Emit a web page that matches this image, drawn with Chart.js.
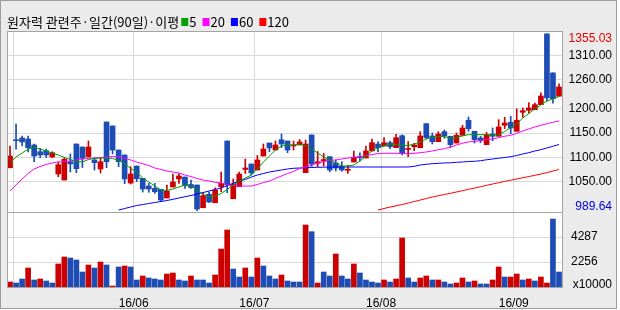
<!DOCTYPE html>
<html>
<head>
<meta charset="utf-8">
<script src="https://cdn.jsdelivr.net/npm/chart.js@4/dist/chart.umd.min.js"></script>
<style>
  html, body { margin: 0; padding: 0; background: #fff; }
  #chart { display: block; }
</style>
</head>
<body>
<canvas id="chart" width="620" height="310"></canvas>
<script>
// 원자력 관련주 index, daily candles (2016-04-29 .. 2016-09-12)
const opens = [
  1078.5, 1135.8, 1140.0, 1137.9, 1125.5, 1111.6, 1113.7, 1100.7, 1065.5, 1053.1,
  1090.9, 1127.5, 1121.3, 1100.7, 1094.5, 1075.9, 1173.0, 1164.8, 1115.1, 1104.8,
  1046.9, 1082.0, 1056.6, 1040.7, 1035.9, 1033.9, 1015.9, 1038.6, 1055.2, 1059.3,
  1043.8, 1042.8, 995.8, 1023.5, 1006.1, 1039.2, 1133.7, 1014.4, 1039.2, 1074.8,
  1086.2, 1073.8, 1102.7, 1129.6, 1115.1, 1136.4, 1133.7, 1123.4, 1125.5, 1068.2,
  1146.2, 1087.6, 1092.4, 1101.3, 1088.3, 1081.4, 1073.2, 1090.3, 1101.3, 1098.6,
  1113.1, 1127.5, 1123.4, 1130.2, 1119.9, 1144.7, 1116.2, 1122.0, 1119.9, 1169.5,
  1144.1, 1132.3, 1153.0, 1143.5, 1129.6, 1145.5, 1176.6, 1153.8, 1140.0, 1126.1,
  1148.2, 1143.5, 1166.2, 1172.4, 1153.8, 1193.1, 1197.2, 1198.5, 1208.8, 1355.03,
  1274.4, 1226.2
];
const highs = [
  1123.4, 1168.9, 1144.1, 1144.1, 1127.5, 1118.6, 1117.2, 1111.6, 1090.3, 1099.2,
  1106.9, 1127.5, 1121.3, 1133.7, 1099.2, 1098.6, 1173.0, 1164.8, 1115.1, 1104.8,
  1080.6, 1082.0, 1056.6, 1046.3, 1046.3, 1033.9, 1042.8, 1065.5, 1066.5, 1059.3,
  1053.1, 1042.8, 1027.2, 1028.3, 1037.2, 1069.6, 1133.7, 1055.2, 1069.6, 1096.5,
  1086.2, 1103.8, 1127.5, 1129.6, 1133.7, 1148.2, 1133.7, 1133.7, 1136.8, 1135.8,
  1146.2, 1112.0, 1108.3, 1101.3, 1094.5, 1090.9, 1083.5, 1113.1, 1109.5, 1123.4,
  1137.9, 1132.3, 1140.6, 1133.7, 1147.6, 1146.2, 1132.3, 1129.0, 1153.0, 1169.5,
  1150.3, 1153.0, 1156.5, 1143.5, 1150.3, 1166.2, 1183.4, 1153.8, 1143.5, 1151.7,
  1160.6, 1177.8, 1182.8, 1184.8, 1199.9, 1202.0, 1212.9, 1212.3, 1233.0, 1355.03,
  1274.4, 1251.6
];
const lows = [
  1077.9, 1116.6, 1123.4, 1111.0, 1090.9, 1099.2, 1099.2, 1099.2, 1059.9, 1053.1,
  1069.6, 1068.2, 1078.9, 1100.7, 1073.8, 1067.6, 1078.5, 1106.9, 1080.6, 1045.5,
  1044.8, 1049.6, 1028.3, 1027.7, 1025.6, 1008.2, 1015.9, 1038.6, 1045.9, 1035.9,
  1035.9, 989.64, 995.8, 1007.0, 1006.1, 1028.9, 1026.8, 1014.4, 1039.2, 1066.5,
  1063.4, 1073.8, 1102.7, 1111.6, 1115.1, 1119.9, 1109.5, 1115.1, 1125.5, 1068.2,
  1081.0, 1080.6, 1082.0, 1070.3, 1071.7, 1071.1, 1066.9, 1090.3, 1091.8, 1098.6,
  1113.1, 1111.6, 1123.4, 1117.8, 1119.9, 1104.8, 1101.3, 1113.7, 1119.9, 1138.5,
  1127.5, 1132.3, 1139.3, 1120.7, 1129.6, 1145.5, 1153.8, 1129.6, 1130.2, 1126.1,
  1134.3, 1143.5, 1159.2, 1148.8, 1153.8, 1182.8, 1191.0, 1198.5, 1208.8, 1215.8,
  1211.7, 1226.2
];
const closes = [
  1102.7, 1134.3, 1131.7, 1119.9, 1102.7, 1104.8, 1104.8, 1109.5, 1084.7, 1095.9,
  1086.2, 1076.5, 1098.0, 1121.3, 1088.9, 1090.9, 1090.9, 1115.1, 1090.9, 1055.2,
  1065.5, 1055.8, 1034.5, 1034.5, 1028.9, 1011.7, 1030.4, 1049.0, 1061.4, 1041.7,
  1037.6, 993.1, 1020.6, 1007.6, 1032.4, 1046.3, 1042.8, 1044.8, 1065.5, 1077.9,
  1067.6, 1094.5, 1117.2, 1119.3, 1125.5, 1127.5, 1115.1, 1125.5, 1131.7, 1127.5,
  1086.2, 1090.9, 1095.5, 1073.8, 1077.9, 1073.8, 1073.8, 1100.0, 1099.2, 1113.1,
  1130.2, 1119.9, 1130.2, 1122.0, 1140.6, 1108.3, 1117.2, 1125.5, 1144.1, 1140.6,
  1132.3, 1148.2, 1144.1, 1126.1, 1145.5, 1160.6, 1159.2, 1136.4, 1135.2, 1146.8,
  1143.5, 1162.7, 1171.0, 1160.6, 1176.6, 1196.4, 1202.0, 1208.8, 1226.8, 1222.7,
  1221.2, 1245.4
];

// moving averages as drawn on the chart
const ma5 = [
  1088.3, 1100.7, 1108.9, 1117.2, 1120.3, 1117.2, 1113.1, 1108.9, 1104.8, 1099.6,
  1095.5, 1091.4, 1090.3, 1095.5, 1097.6, 1098.6, 1098.6, 1097.6, 1093.4, 1087.2,
  1076.9, 1069.6, 1057.2, 1049.0, 1040.7, 1032.4, 1031.4, 1034.5, 1038.6, 1042.8,
  1040.7, 1032.4, 1024.1, 1017.9, 1020.0, 1025.2, 1033.5, 1042.8, 1051.0, 1057.2,
  1063.4, 1075.9, 1090.3, 1102.7, 1115.1, 1123.4, 1125.5, 1125.5, 1127.5, 1123.4,
  1117.2, 1108.9, 1100.7, 1094.5, 1088.3, 1082.0, 1082.0, 1084.1, 1092.4, 1102.7,
  1113.1, 1119.3, 1123.4, 1127.5, 1126.5, 1124.4, 1124.4, 1127.5, 1131.7, 1137.9,
  1141.0, 1143.0, 1143.0, 1138.9, 1141.0, 1144.1, 1146.8, 1146.8, 1146.8, 1146.8,
  1146.8, 1146.2, 1153.4, 1161.7, 1168.9, 1181.3, 1190.6, 1199.9, 1208.2, 1216.5,
  1220.6, 1225.8
];
const ma20 = [
  1030.4, 1042.8, 1055.2, 1066.5, 1075.9, 1081.0, 1085.2, 1088.3, 1090.3, 1091.4,
  1092.4, 1094.5, 1096.5, 1097.6, 1098.6, 1099.6, 1100.7, 1101.7, 1101.3, 1098.0,
  1094.5, 1090.3, 1086.8, 1083.1, 1077.9, 1074.8, 1071.7, 1069.6, 1067.6, 1063.4,
  1060.3, 1056.2, 1053.1, 1051.0, 1048.3, 1046.9, 1043.8, 1041.7, 1040.7, 1040.7,
  1040.7, 1043.8, 1047.9, 1051.0, 1056.2, 1061.4, 1066.5, 1070.7, 1076.9, 1080.0,
  1084.1, 1088.3, 1091.4, 1093.8, 1094.5, 1096.5, 1098.6, 1100.0, 1101.7, 1103.8,
  1105.8, 1107.5, 1108.3, 1108.3, 1108.3, 1107.9, 1107.3, 1108.3, 1109.6, 1111.0,
  1113.1, 1115.8, 1117.8, 1120.7, 1125.5, 1129.0, 1131.7, 1133.1, 1134.4, 1136.4,
  1137.9, 1140.6, 1143.5, 1145.5, 1149.3, 1154.4, 1158.6, 1162.7, 1166.2, 1169.5,
  1172.4, 1175.1
];
// the 60 and 120 day lines only begin part way through the window
const ma60Start = 18;
const ma60 = [
  991.1, 994.2, 997.3, 1000.4, 1002.4, 1004.5, 1006.6, 1008.6, 1010.7, 1013.2,
  1015.9, 1018.6, 1021.0, 1024.1, 1027.2, 1030.4, 1033.5, 1036.6, 1041.7, 1046.3,
  1051.0, 1054.1, 1059.3, 1063.4, 1066.5, 1069.6, 1071.7, 1073.8, 1075.9, 1077.3,
  1077.9, 1078.5, 1079.0, 1079.4, 1079.6, 1079.8, 1080.0, 1080.0, 1080.0, 1080.0,
  1080.0, 1080.0, 1080.0, 1080.0, 1080.0, 1080.0, 1080.0, 1080.0, 1080.0, 1081.4,
  1084.1, 1085.6, 1086.8, 1087.6, 1088.3, 1088.7, 1089.7, 1090.3, 1091.4, 1091.8,
  1093.0, 1094.9, 1096.5, 1098.2, 1099.6, 1101.3, 1103.8, 1106.9, 1109.6, 1113.1,
  1115.8, 1119.3, 1122.8, 1126.5
];
const ma120Start = 61;
const ma120 = [
  991.1, 994.2, 997.3, 999.8, 1002.4, 1005.5, 1008.6, 1011.7, 1014.8, 1017.9,
  1020.6, 1023.1, 1025.6, 1028.3, 1031.0, 1033.9, 1036.5, 1039.2, 1042.1, 1044.8,
  1047.5, 1050.4, 1052.7, 1055.2, 1057.8, 1060.3, 1062.8, 1065.5, 1068.2, 1071.7,
  1074.8
];

// volume, x10000 shares, and the colour the bar is drawn in (u = red, d = blue)
const volumes = [
  631, 550, 875, 1769, 794, 875, 713, 550, 2094, 2662,
  2581, 2418, 1444, 2012, 1769, 2256, 2012, 306, 1850, 1931,
  1850, 794, 1119, 956, 875, 794, 1281, 1362, 794, 713,
  1119, 794, 794, 550, 1200, 3312, 4856, 1687, 1037, 1769,
  1037, 2581, 1931, 1119, 875, 1200, 713, 631, 631, 5262,
  4718, 550, 1444, 1119, 2906, 1119, 875, 2094, 1362, 794,
  631, 550, 794, 631, 875, 4206, 956, 631, 956, 1119,
  794, 794, 631, 469, 550, 956, 631, 713, 469, 469,
  794, 1850, 1037, 1037, 1281, 794, 875, 713, 1037, 550,
  5749, 1444
];
const volDir = [
  'u','d','d','u','d','u','d','d','u','u',
  'd','d','d','u','d','u','d','u','d','u',
  'd','d','u','d','d','d','u','u','d','d',
  'u','d','d','d','u','u','u','d','d','u',
  'd','u','d','d','d','u','d','d','d','u',
  'd','u','d','d','u','d','d','u','d','d',
  'd','d','u','d','u','u','d','d','u','u',
  'd','u','d','d','u','u','d','u','d','d',
  'u','u','d','u','u','d','u','d','u','u',
  'd','d'
];

// axes
const gridDays = [1, 21, 41, 62, 84];           // first trading day of each month
const monthLabels = ['', '16/06', '16/07', '16/08', '16/09'];
const priceTicks = [1050, 1100, 1150, 1200, 1260, 1310];
const volumeTicks = [2256, 4287];

const UP = '#cc0000';
const DOWN = '#1c4cb4';
const GRID = '#d9d9d9';
const FRAME = '#a4a4a4';
const numFont = { family: '"Liberation Sans", Arial, sans-serif', size: 12 };

const candleColor = opens.map((o, i) => closes[i] >= o ? UP : DOWN);
const labels = opens.map((_, i) => i);
const fromStart = (start, arr) => labels.map(i => i < start ? null : arr[i - start]);

const panels = {
  id: 'panels',
  beforeDraw(chart) {
    const { ctx, width, height, chartArea: a } = chart;
    ctx.save();
    ctx.fillStyle = '#fff';
    ctx.fillRect(0, 0, width, height);
    ctx.fillStyle = '#ebebeb';
    ctx.fillRect(0, 0, 617, 309);
    ctx.strokeStyle = '#9c9c9c';
    ctx.lineWidth = 1;
    ctx.strokeRect(0.5, 0.5, 616, 308);
    ctx.fillStyle = '#fff';
    ctx.fillRect(a.left, a.top, a.right - a.left, a.bottom - a.top);
    ctx.restore();
  },
  afterDraw(chart) {
    const { ctx, chartArea: a } = chart;
    const sy = chart.scales.y;
    const sv = chart.scales.yv;
    ctx.save();
    ctx.strokeStyle = FRAME;
    ctx.lineWidth = 1;
    ctx.beginPath();
    [sy.top, sv.top, sv.bottom].forEach(y => {
      ctx.moveTo(a.left, Math.round(y) + 0.5);
      ctx.lineTo(a.right + 1, Math.round(y) + 0.5);
    });
    ctx.moveTo(a.left + 0.5, a.top);
    ctx.lineTo(a.left + 0.5, a.bottom + 1);
    ctx.moveTo(a.right + 0.5, a.top);
    ctx.lineTo(a.right + 0.5, a.bottom + 1);
    ctx.stroke();

    // highest / lowest price markers and the volume unit
    const hi = Math.max(...highs);
    const lo = Math.min(...lows);
    ctx.font = '12px "Liberation Sans", Arial, sans-serif';
    ctx.textAlign = 'right';
    ctx.textBaseline = 'middle';
    ctx.fillStyle = '#e60000';
    ctx.fillText(hi.toFixed(2), sy.right, Math.max(sy.getPixelForValue(hi), sy.top + 7.5));
    ctx.fillStyle = '#0000e0';
    ctx.fillText(lo.toFixed(2), sy.right, Math.min(sy.getPixelForValue(lo), sy.bottom - 5.5));
    ctx.fillStyle = '#000';
    ctx.fillText('x10000', sv.right, sv.bottom - 2);

    // title with moving average legend
    ctx.textAlign = 'left';
    ctx.font = '13px "Noto Sans CJK KR", sans-serif';
    const title = '원자력 관련주·일간(90일)·이평';
    let x = 7;
    ctx.fillText(title, x, 22.5);
    x += ctx.measureText(title).width + 2;
    chart.data.datasets.filter(d => d.type === 'line').forEach(d => {
      ctx.fillStyle = d.borderColor;
      ctx.fillRect(x, 18, 7, 8);
      x += 8;
      ctx.fillStyle = '#000';
      ctx.fillText(d.label, x, 22.5);
      x += ctx.measureText(d.label).width + 6;
    });
    ctx.restore();
  }
};

const lineDs = (label, data, color) => ({
  type: 'line', label, data, borderColor: color, borderWidth: 1,
  pointRadius: 0, tension: 0, yAxisID: 'y', order: 0
});

new Chart(document.getElementById('chart'), {
  type: 'bar',
  data: {
    labels,
    datasets: [
      lineDs('5', ma5, '#00a000'),
      lineDs('20', ma20, '#ff00ff'),
      lineDs('60', fromStart(ma60Start, ma60), '#0000ff'),
      lineDs('120', fromStart(ma120Start, ma120), '#ff0000'),
      {
        label: 'wick', data: lows.map((l, i) => [l, highs[i]]),
        backgroundColor: candleColor, barThickness: 1, grouped: false, yAxisID: 'y', order: 2
      },
      {
        label: 'body', data: opens.map((o, i) => [o, closes[i]]),
        backgroundColor: candleColor, barThickness: 5, minBarLength: 1, grouped: false, yAxisID: 'y', order: 1
      },
      {
        label: 'volume', data: volumes,
        backgroundColor: volDir.map(d => d === 'u' ? UP : DOWN),
        barThickness: 5, grouped: false, yAxisID: 'yv', order: 1
      }
    ]
  },
  options: {
    responsive: false,
    animation: false,
    devicePixelRatio: 1,
    layout: { padding: { left: 7, top: 31, right: 8, bottom: 3 } },
    plugins: { legend: { display: false }, tooltip: { enabled: false } },
    scales: {
      x: {
        offset: true,
        grid: {
          offset: true, drawTicks: false,
          color: c => gridDays.includes(c.index) ? GRID : 'rgba(0,0,0,0)'
        },
        border: { display: false },
        ticks: {
          autoSkip: false, maxRotation: 0, padding: 9, labelOffset: -3,
          color: '#000', font: numFont,
          callback: (v, i) => {
            const k = gridDays.indexOf(i);
            return k >= 0 ? monthLabels[k] : '';
          }
        },
        afterFit: s => { s.height = 20; }
      },
      y: {
        position: 'right', stack: 'panes', stackWeight: 181,
        min: 987, max: 1361,
        afterBuildTicks: s => { s.ticks = priceTicks.map(v => ({ value: v })); },
        grid: { drawTicks: false, color: GRID },
        border: { display: false },
        ticks: { crossAlign: 'far', color: '#000', font: numFont, callback: v => v.toFixed(2) },
        afterFit: s => { s.width = 50; }
      },
      yv: {
        position: 'right', stack: 'panes', stackWeight: 75,
        min: 225, max: 6318,
        afterBuildTicks: s => { s.ticks = volumeTicks.map(v => ({ value: v })); },
        grid: { drawTicks: false, color: GRID },
        border: { display: false },
        ticks: { padding: 9, color: '#000', font: numFont, callback: v => String(v) },
        afterFit: s => { s.width = 50; }
      }
    }
  },
  plugins: [panels]
});
</script>
</body>
</html>
